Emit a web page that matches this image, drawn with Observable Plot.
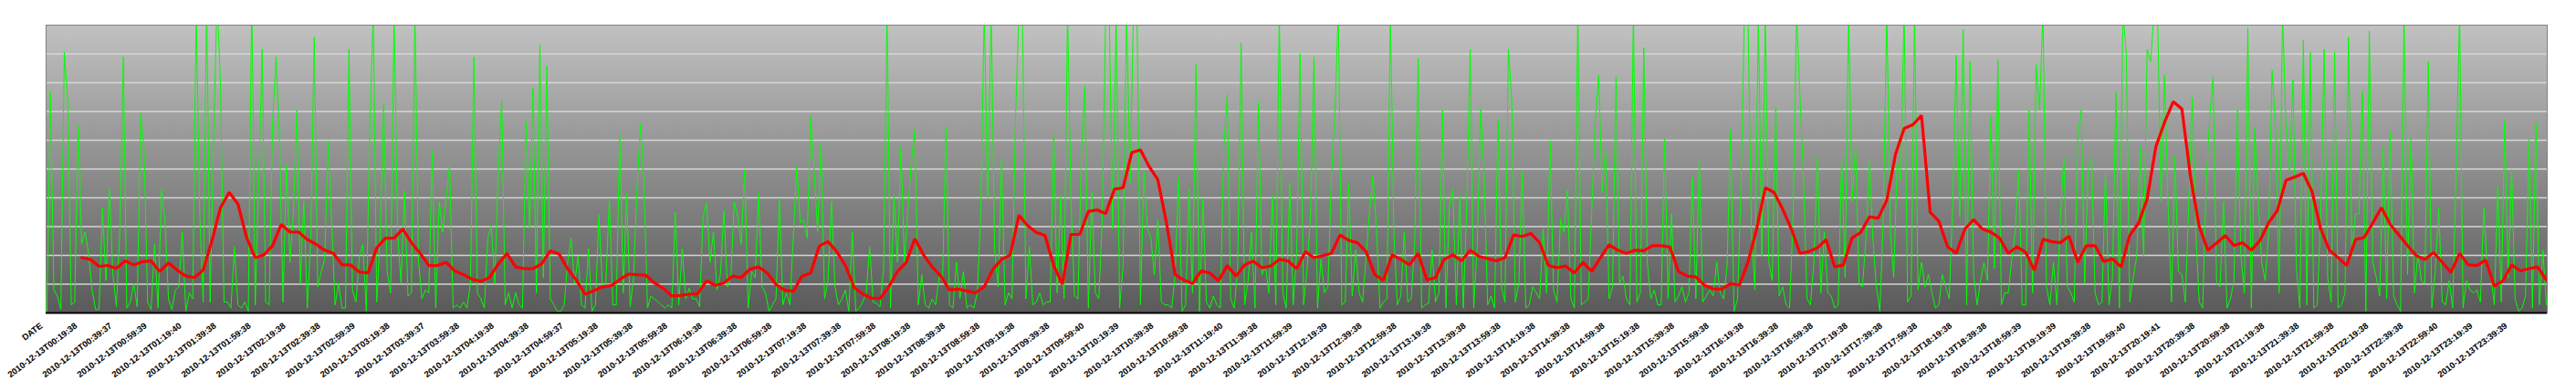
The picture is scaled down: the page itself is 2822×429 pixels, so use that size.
<!DOCTYPE html>
<html><head><meta charset="utf-8">
<script src="https://cdn.jsdelivr.net/npm/d3@7"></script>
<script src="https://cdn.jsdelivr.net/npm/@observablehq/plot@0.6"></script>
<style>html,body{margin:0;padding:0;background:#fff;overflow:hidden}#chart svg{display:block}</style>
</head><body><div id="chart"></div>
<script>
// green series: one reading every 2 categories (minutes), starting at category 0
const greenValues = [
0.6,76.8,8.0,5.9,1.2,90.6,73.1,2.8,3.8,65.2,23.9,28.1,20.7,8.0,1.2,1.2,36.6,11.2,43.0,13.3,
2.2,29.2,89.0,1.7,3.8,10.2,2.2,69.4,55.7,3.8,1.2,23.9,1.7,43.0,32.4,4.9,1.2,8.0,9.1,28.1,
0.6,7.0,4.9,105,34.5,3.8,110,3.8,59.9,110,78.9,3.8,3.8,1.7,22.9,2.8,1.7,3.8,0.6,110,
2.8,45.1,91.6,3.8,2.8,66.3,89.0,59.9,3.8,51.4,17.6,34.5,70.5,10.2,38.7,1.7,26.0,95.9,9.1,14.4,
18.6,59.9,32.4,2.8,10.2,1.7,1.7,91.6,8.0,3.8,19.7,23.9,0.6,
65.2,105,3.8,27.1,72.6,14.4,7.0,105,28.1,10.2,42.4,5.9,7.0,105,18.6,4.9,8.0,7.0,56.2,1.7,
38.7,28.1,39.8,51.4,1.7,2.8,1.7,3.8,1.7,10.2,89.0,7.0,4.9,1.7,26.0,30.3,10.2,49.3,74.2,2.8,
7.0,1.7,7.0,2.8,1.7,66.8,29.2,78.1,7.0,93.2,12.3,85.8,4.9,2.8,0.6,0.6,2.8,17.6,26.0,10.2,
19.7,2.8,1.7,22.3,0.6,2.8,34.0,9.1,10.2,39.8,2.8,2.8,62.0,7.0,41.4,2.2,12.3,44.0,65.7,44.6,
1.7,5.9,4.9,3.8,2.8,1.7,2.8,1.7,35.0,2.8,22.3,4.9,8.6,4.9,4.9,2.2,33.4,38.2,17.6,28.1,
8.0,13.3,
35.6,9.1,12.3,38.7,33.4,23.9,49.8,1.7,14.4,12.3,41.4,9.1,7.0,0.6,2.8,4.9,39.8,2.8,7.0,2.8,
26.0,50.9,31.3,32.4,26.0,68.4,49.3,28.1,59.4,4.9,11.2,38.7,9.1,2.8,4.9,8.0,0.6,28.1,0.6,1.7,
3.8,7.0,22.9,3.8,3.3,2.2,15.4,105,1.7,40.8,17.6,57.8,17.6,35.6,52.5,63.6,2.8,13.3,2.8,1.7,
4.9,2.8,12.3,11.2,64.7,2.8,1.7,17.6,4.9,14.4,1.7,2.8,1.7,7.0,34.5,105,40,105,21.8,9.1,
53.5,2.8,7.0,4.9,67.3,105,105,4.9,22.9,2.8,3.8,7.0,2.8,3.8,3.8,62.0,7.0,40.8,4.9,105,
38.7,5.9,
4.9,55.7,78.9,1.7,41.9,7.0,4.9,32.4,105,105,29.2,105,1.7,16.5,105,45.1,105,105,2.8,49.3,
29.2,26.0,13.3,32.4,3.8,2.8,2.8,1.7,13.3,47.2,0.6,2.8,43.0,7.0,86.3,0.6,39.8,3.8,1.7,5.9,
2.8,1.7,57.2,75.8,4.9,1.7,15.4,93.8,2.8,11.2,28.1,1.7,73.1,13.3,16.5,7.0,40.8,2.8,105,7.0,
1.7,45.1,2.8,20.7,90.1,2.8,15.4,34.5,89.0,1.7,18.6,7.0,9.1,47.2,69.4,105,2.8,3.8,45.1,5.9,
21.8,7.0,3.8,19.7,35.6,
47.6,29.2,1.7,3.8,4.9,105,28.1,2.8,5.9,28.1,3.8,4.9,24.4,88.5,1.7,2.8,3.3,21.8,3.8,7.0,
70.5,1.7,37.1,43.0,2.8,40.8,1.7,37.7,91.6,1.7,22.9,71.0,48.3,2.8,5.9,1.7,67.3,9.1,3.8,91.6,
73.1,3.8,10.2,49.3,1.7,2.8,9.1,7.0,4.9,29.2,7.0,59.9,8.0,3.8,32.4,28.1,43.0,4.9,1.7,105,
2.8,3.8,4.9,35.6,66.2,82.6,41.9,56.7,4.9,9.1,82.1,10.2,12.8,4.9,2.8,105,3.8,7.0,92.2,17.6,
4.9,8.0,2.8,2.8,60.4,4.9,34.5,3.8,5.9,9.1,3.8,7.0,47.2,4.9,53.5,3.8,5.9,8.0,5.9,17.6,
7.0,4.9,
16.5,63.6,0.6,4.9,44.0,105,105,28.1,8.0,105,19.7,105,17.6,11.2,71.5,5.9,9.1,2.8,1.7,33.4,
105,74.7,47.2,4.9,2.8,17.6,54.1,7.0,28.1,7.0,5.9,1.7,2.8,54.1,12.3,105,38.7,57.8,10.2,9.1,
26.0,52.5,26.0,9.1,0.6,33.4,105,28.1,12.3,52.5,46.1,105,3.8,5.9,105,8.0,17.6,9.1,13.3,7.0,
1.7,2.8,13.3,9.1,4.9,38.7,89.5,33.4,98.5,2.8,87.4,13.3,2.8,11.2,17.6,11.2,68.4,15.4,87.9,2.8,
7.0,7.0,18.6,28.1,49.8,2.8,2.8,70.5,7.0,86.3,70.5,105,9.1,2.8,17.6,2.8,33.4,54.1,9.1,7.0,
3.8,62.0,70.5,
10.2,49.8,54.1,7.0,2.8,3.8,49.3,2.8,12.3,76.8,1.7,105,90,3.8,12.3,19.7,57.8,19.7,91.6,87.4,
105,105,38.7,82.6,38.7,3.8,54.6,14.4,13.3,3.8,38.7,74.7,28.1,3.8,1.7,45.1,67.8,82.1,10.2,9.1,
38.7,1.7,4.9,11.2,70.5,19.7,7.0,99,1.7,64.1,38.7,17.6,11.2,28.1,84.2,64.1,7.0,105,64.1,49.3,
81.1,15.4,1.7,94.8,2.8,90.6,1.7,2.8,34.5,91.6,12.3,
3.8,90.6,1.7,2.8,7.0,95.9,19.7,34.5,34.5,76.8,0.6,98.0,17.6,12.3,5.9,57.8,4.9,63.1,5.9,2.8,
0.6,105,13.3,61.0,7.0,20.7,11.2,10.2,87.4,1.7,14.4,36.6,3.8,2.8,11.2,1.7,49.3,105,1.7,11.2,
8.0,7.0,8.0,3.8,36.6,15.4,13.3,2.8,44.0,3.8,66.8,12.3,49.8,4.9,0.6,1.7,5.9,60.4,1.7,66.2,
2.8,21.8,2.8
];
const greenStep = 2;

// red series (moving average): one reading every 5 categories, starting at category 20
const redValues = [
19.2,18.6,16.2,16.5,15.5,18.1,16.7,17.8,18.1,14.4,17.4,14.9,12.8,12.3,14.9,25,36.6,41.9,37.9,26.2,
19.2,20.2,23.4,30.8,28.1,28.1,25.5,23.9,21.8,20.7,16.7,16.7,14.2,13.9,22.6,26.0,26.0,29.2,24.4,20.7,
16.5,16.5,17.6,14.6,13.3,11.7,11.0,12.3,17.0,20.7,16.0,15.4,15.4,17.0,21.6,20.5,15.4,11.4,6.5,7.7,
9.1,9.5,11.6,13.5,13.3,13.1,10.4,8.6,5.9,6.1,6.5,6.7,11.2,9.6,10.4,12.8,12.3,15.2,16.0,13.9,
9.9,8.0,7.5,12.8,13.9,23.3,24.8,21.3,16.5,8.9,6.6,5.1,5.1,9.1,14.4,17.5,25.8,20.2,16.0,12.8,
8.0,8.3,7.6,7.0,9.1,15.2,18.6,20.2,34.0,30.3,28.0,26.9,16.5,10.0,27.3,27.3,35.3,35.8,34.5,43.0,
43.5,55.7,56.7,50.9,46.3,31.3,13.3,11.4,10.2,14.6,13.9,11.2,16.5,12.8,16.7,18.0,15.7,16.3,18.6,18.1,
15.4,21.3,19.2,19.9,20.7,27.1,25.2,24.4,21.3,13.3,11.4,20.2,18.6,16.7,20.7,11.4,12.3,18.6,20.2,18.1,
21.8,19.7,18.9,18.1,19.2,27.1,26.6,27.6,24.4,16.5,15.7,16.3,13.9,17.6,14.4,19.2,23.7,21.8,20.7,21.8,
21.6,23.4,23.4,22.9,14.4,12.8,12.5,9.6,8.4,8.3,10.2,9.6,17.6,29.2,43.5,41.9,36.1,29.2,20.7,21.3,
22.6,25.5,16.0,16.7,26.1,28.0,33.4,32.9,39.2,55.1,64.1,65.4,68.6,35.0,31.9,23.0,20.7,29.2,32.4,29.2,
28.1,26.0,20.7,23.0,21.1,14.8,25.6,24.8,24.4,26.7,17.6,23.4,23.4,17.9,18.8,16.0,27.0,31.2,39.6,57.8,
66.2,73.4,70.9,47.2,30.0,21.8,24.3,26.9,23.4,24.4,21.8,25.2,31.4,35.6,46.1,47.2,48.5,42.2,29.2,21.8,
19.2,16.5,25.5,26.2,31.3,36.6,30.8,27.1,23.4,19.9,18.6,21.0,17.6,14.1,20.7,16.7,16.5,18.4,9.3,11.2,
16.7,14.6,15.4,16.0,11.4
];
const redStart = 20, redStep = 5;

// category axis labels, one every 20 categories
const tickLabels = ["DATE",
"2010-12-13T00:19:38","2010-12-13T00:39:37","2010-12-13T00:59:39","2010-12-13T01:19:40","2010-12-13T01:39:38",
"2010-12-13T01:59:38","2010-12-13T02:19:38","2010-12-13T02:39:38","2010-12-13T02:59:39","2010-12-13T03:19:38",
"2010-12-13T03:39:37","2010-12-13T03:59:38","2010-12-13T04:19:38","2010-12-13T04:39:38","2010-12-13T04:59:37",
"2010-12-13T05:19:38","2010-12-13T05:39:38","2010-12-13T05:59:38","2010-12-13T06:19:38","2010-12-13T06:39:38",
"2010-12-13T06:59:38","2010-12-13T07:19:38","2010-12-13T07:39:38","2010-12-13T07:59:38","2010-12-13T08:19:38",
"2010-12-13T08:39:38","2010-12-13T08:59:38","2010-12-13T09:19:38","2010-12-13T09:39:38","2010-12-13T09:59:40",
"2010-12-13T10:19:39","2010-12-13T10:39:38","2010-12-13T10:59:38","2010-12-13T11:19:40","2010-12-13T11:39:38",
"2010-12-13T11:59:39","2010-12-13T12:19:39","2010-12-13T12:39:38","2010-12-13T12:59:38","2010-12-13T13:19:38",
"2010-12-13T13:39:38","2010-12-13T13:59:38","2010-12-13T14:19:38","2010-12-13T14:39:38","2010-12-13T14:59:38",
"2010-12-13T15:19:38","2010-12-13T15:39:38","2010-12-13T15:59:38","2010-12-13T16:19:38","2010-12-13T16:39:38",
"2010-12-13T16:59:38","2010-12-13T17:19:38","2010-12-13T17:39:38","2010-12-13T17:59:38","2010-12-13T18:19:38",
"2010-12-13T18:39:38","2010-12-13T18:59:39","2010-12-13T19:19:39","2010-12-13T19:39:38","2010-12-13T19:59:40",
"2010-12-13T20:19:41","2010-12-13T20:39:38","2010-12-13T20:59:38","2010-12-13T21:19:38","2010-12-13T21:39:38",
"2010-12-13T21:59:38","2010-12-13T22:19:38","2010-12-13T22:39:38","2010-12-13T22:59:40","2010-12-13T23:19:39",
"2010-12-13T23:39:39"];
const tickEvery = 20;
const categoryCount = 1441;
const gridValues = [10,20,30,40,50,60,70,80,90];

const green = greenValues.map((v, j) => ({i: j * greenStep, v}));
const red = redValues.map((v, k) => ({i: redStart + k * redStep, v}));
const tickIdx = tickLabels.map((_, k) => k * tickEvery);

const chart = Plot.plot({
  width: 2822, height: 429,
  marginLeft: 50, marginRight: 32, marginTop: 27, marginBottom: 87,
  style: {background: "#fff", fontFamily: "Liberation Sans", overflow: "hidden"},
  x: {domain: [-0.5, categoryCount - 0.5], axis: null, label: null},
  y: {domain: [0, 100], axis: null, label: null},
  marks: [
    Plot.frame({fill: "url(#bgGrad)", stroke: null}),
    Plot.ruleY(gridValues, {stroke: "#d6d6d6", strokeWidth: 1.3}),
    Plot.line(green, {x: "i", y: "v", stroke: "#00ff00", strokeWidth: 1, clip: true}),
    Plot.line(red, {x: "i", y: "v", stroke: "#ff0000", strokeWidth: 3.2, clip: true, strokeLinejoin: "miter"}),
    Plot.frame({stroke: "#808080", strokeWidth: 1}),
    Plot.ruleY([0], {stroke: "#000", strokeWidth: 2}),
    Plot.axisX({ticks: tickIdx, tickFormat: d => tickLabels[Math.round(d / tickEvery)],
      label: null, tickRotate: -37, tickSize: 0, tickPadding: 13, dx: -6,
      fontSize: 9.5, fontWeight: "bold", fontFamily: "Liberation Sans", fill: "#000"})
  ]
});

const ns = "http://www.w3.org/2000/svg";
const defs = document.createElementNS(ns, "defs");
defs.innerHTML = '<linearGradient id="bgGrad" x1="0" y1="0" x2="0" y2="1">' +
  '<stop offset="0" stop-color="#c1c1c1"/><stop offset="1" stop-color="#5a5a5a"/></linearGradient>';
chart.insertBefore(defs, chart.firstChild);
document.getElementById("chart").appendChild(chart);
</script>
</body></html>
